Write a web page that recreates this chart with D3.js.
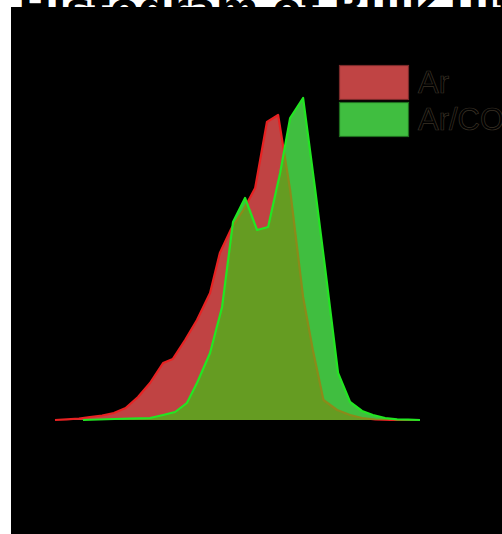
<!DOCTYPE html>
<html>
<head>
<meta charset="utf-8">
<script src="https://cdn.jsdelivr.net/npm/d3@7"></script>
<style>
  html, body { margin: 0; padding: 0; background: #ffffff; overflow: hidden; }
  svg { display: block; }
</style>
</head>
<body>
<svg id="chart" width="502" height="534"></svg>
<script>
// ---- data ----
const titleText = "Histogram of Bulk Ultra";
const seriesNames = ["Ar", "Ar/CO"];

// Ar series: bin position and count
const arX = [0, 1.02, 2.04, 2.97, 4.0, 5.0, 6.0, 7.05, 8.07, 9.18, 10.0, 11.05, 12.06, 13.17, 14.0, 15.0, 16.0, 17.0, 18.0, 18.95, 19.97, 21.07, 21.9, 22.8, 23.96, 25.06, 26.08, 27.2, 28.5, 31.0];
const arY = [0, 0.7, 1.5, 3, 4.5, 7, 12, 23, 37, 57, 61, 80, 100, 127, 167, 192, 210, 232, 298, 305, 230, 123, 70, 20, 10, 5, 2, 0.5, 0, 0];

// Ar/CO series
const coX = [2.38, 6.37, 8.07, 9.18, 10.2, 11.2, 12.06, 13.17, 14.19, 15.12, 16.14, 17.16, 18.1, 19.12, 19.97, 21.07, 22.09, 22.94, 24.04, 25.06, 26.08, 27.0, 28.04, 29.06, 29.99, 31.0];
const coY = [0, 1.5, 2, 5, 8, 17, 37, 67, 113, 198, 222, 190, 193, 247, 302, 322, 231, 152, 47, 18, 9, 5, 2, 0.7, 0.3, 0];

const arData = arX.map((x, i) => ({ x, y: arY[i] }));
const coData = coX.map((x, i) => ({ x, y: coY[i] }));

// ---- layout ----
const svg = d3.select("#chart");
const W = 502, H = 534;

// title (mostly hidden behind the dark panel)
svg.append("text")
  .attr("x", 18).attr("y", 22)
  .attr("font-family", "DejaVu Sans")
  .attr("font-weight", "bold")
  .attr("font-size", 41)
  .attr("fill", "#000")
  .text(titleText);

// dark panel
svg.append("rect")
  .attr("x", 11).attr("y", 7)
  .attr("width", W - 11).attr("height", H - 7)
  .attr("fill", "#000");

const x = d3.scaleLinear().domain([0, 31]).range([55, 420]);
const y = d3.scaleLinear().domain([0, 400]).range([420, 20]);

const area = d3.area().x(d => x(d.x)).y0(y(0)).y1(d => y(d.y));
const line = d3.line().x(d => x(d.x)).y(d => y(d.y));

const defs = svg.append("defs");
defs.append("clipPath").attr("id", "coClip")
  .append("path").attr("d", area(coData));

// Ar area + line
svg.append("path").attr("d", area(arData)).attr("fill", "#c04343");
svg.append("path").attr("d", line(arData))
  .attr("fill", "none").attr("stroke", "#e82222").attr("stroke-width", 2.2)
  .attr("stroke-linejoin", "round");

// Ar/CO area
svg.append("path").attr("d", area(coData)).attr("fill", "#40be40");

// overlap region
const ov = svg.append("g").attr("clip-path", "url(#coClip)");
ov.append("path").attr("d", area(arData)).attr("fill", "#659c22");
ov.append("path").attr("d", line(arData))
  .attr("fill", "none").attr("stroke", "#8c8a1a").attr("stroke-width", 2.2)
  .attr("stroke-linejoin", "round");

// Ar/CO line
svg.append("path").attr("d", line(coData))
  .attr("fill", "none").attr("stroke", "#22e622").attr("stroke-width", 2.2)
  .attr("stroke-linejoin", "round");

// legend
const legendColors = [
  { fill: "#c04444", stroke: "#7a2a2a" },
  { fill: "#40be40", stroke: "#1f6e1f" }
];
const lg = svg.append("g").attr("transform", "translate(339,65)");
seriesNames.forEach((name, i) => {
  const g = lg.append("g").attr("transform", `translate(0,${i * 37})`);
  g.append("rect")
    .attr("x", 0.5).attr("y", 0.5)
    .attr("width", 69).attr("height", 34)
    .attr("fill", legendColors[i].fill)
    .attr("stroke", legendColors[i].stroke)
    .attr("stroke-width", 1.2);
  g.append("text")
    .attr("x", 79).attr("y", 28)
    .attr("font-family", "Liberation Sans")
    .attr("font-size", 31)
    .attr("fill", "#000")
    .attr("stroke", "#3a3226")
    .attr("stroke-width", 0.7)
    .text(name);
});
</script>
</body>
</html>
